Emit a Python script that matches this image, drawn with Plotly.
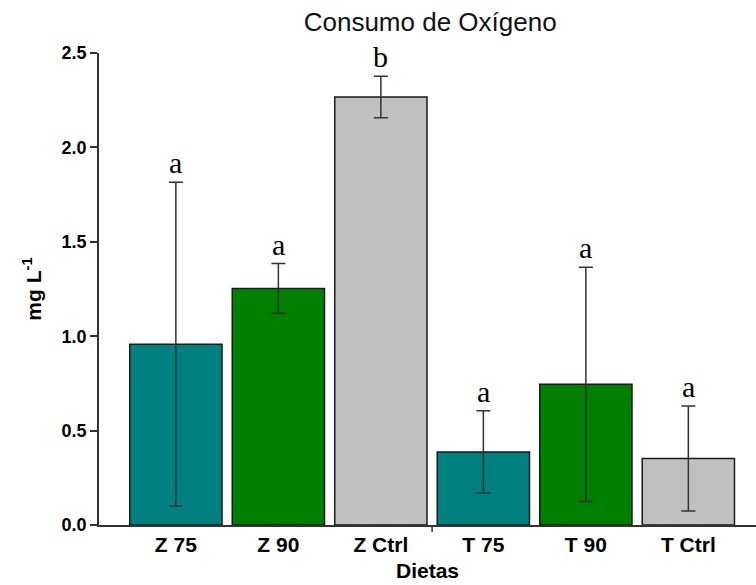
import plotly.graph_objects as go

categories = ["Z 75", "Z 90", "Z Ctrl", "T 75", "T 90", "T Ctrl"]
values = [0.957, 1.253, 2.267, 0.387, 0.745, 0.352]
errors = [0.858, 0.132, 0.110, 0.218, 0.620, 0.278]
letters = ["a", "a", "b", "a", "a", "a"]
colors = ["#008080", "#008000", "#c0c0c0", "#008080", "#008000", "#c0c0c0"]
ytick_vals = [0.0, 0.5, 1.0, 1.5, 2.0, 2.5]
ytick_text = ["0.0", "0.5", "1.0", "1.5", "2.0", "2.5"]

xpos = list(range(len(categories)))

fig = go.Figure()
fig.add_trace(go.Bar(
    x=xpos, y=values, width=0.9,
    marker=dict(color=colors, line=dict(color="#1a1a1a", width=1.5)),
    error_y=dict(type="data", array=errors, visible=True,
                 color="#333333", thickness=1.5, width=7),
    showlegend=False, hoverinfo="skip",
))

annotations = []
for i, (v, e, t) in enumerate(zip(values, errors, letters)):
    annotations.append(dict(
        x=i, y=v + e, text=t, showarrow=False, xref="x", yref="y",
        yanchor="bottom", yshift=1,
        font=dict(family="Liberation Serif", size=30, color="#000000"),
    ))

fig.update_layout(
    width=756, height=585,
    margin=dict(l=99, r=0, t=53, b=60),
    paper_bgcolor="white", plot_bgcolor="white",
    title=dict(text="Consumo de Oxígeno", x=0.569, xanchor="center",
               y=0.962, yanchor="middle",
               font=dict(family="Liberation Sans", size=26, color="#111111")),
    annotations=annotations,
    bargap=0.1,
)

fig.update_xaxes(
    range=[-0.75, 5.66], tickvals=xpos, ticktext=categories,
    showgrid=False, zeroline=False, showline=True,
    linecolor="#333333", linewidth=1.5, ticks="",
    tickfont=dict(family="Liberation Sans", size=21, color="#000000", weight="bold"),
    title=dict(text="<b>Dietas</b>", standoff=8,
               font=dict(family="Liberation Sans", size=21, color="#000000")),
)
fig.update_yaxes(
    range=[0, 2.5], tickvals=ytick_vals, ticktext=ytick_text,
    showgrid=False, zeroline=False, showline=True,
    linecolor="#333333", linewidth=1.5, ticks="outside", ticklen=7,
    tickcolor="#333333", tickwidth=1.5,
    tickfont=dict(family="Liberation Sans", size=18, color="#000000", weight="bold"),
    title=dict(text="<b>mg L<sup>-1</sup></b>", standoff=14,
               font=dict(family="Liberation Sans", size=21, color="#000000")),
)

# group separator tick on x axis
fig.add_shape(type="line", xref="x", yref="paper", x0=2.5, x1=2.5, y0=0, y1=-0.015,
              line=dict(color="#333333", width=1.5))

fig.write_html("out.html")
